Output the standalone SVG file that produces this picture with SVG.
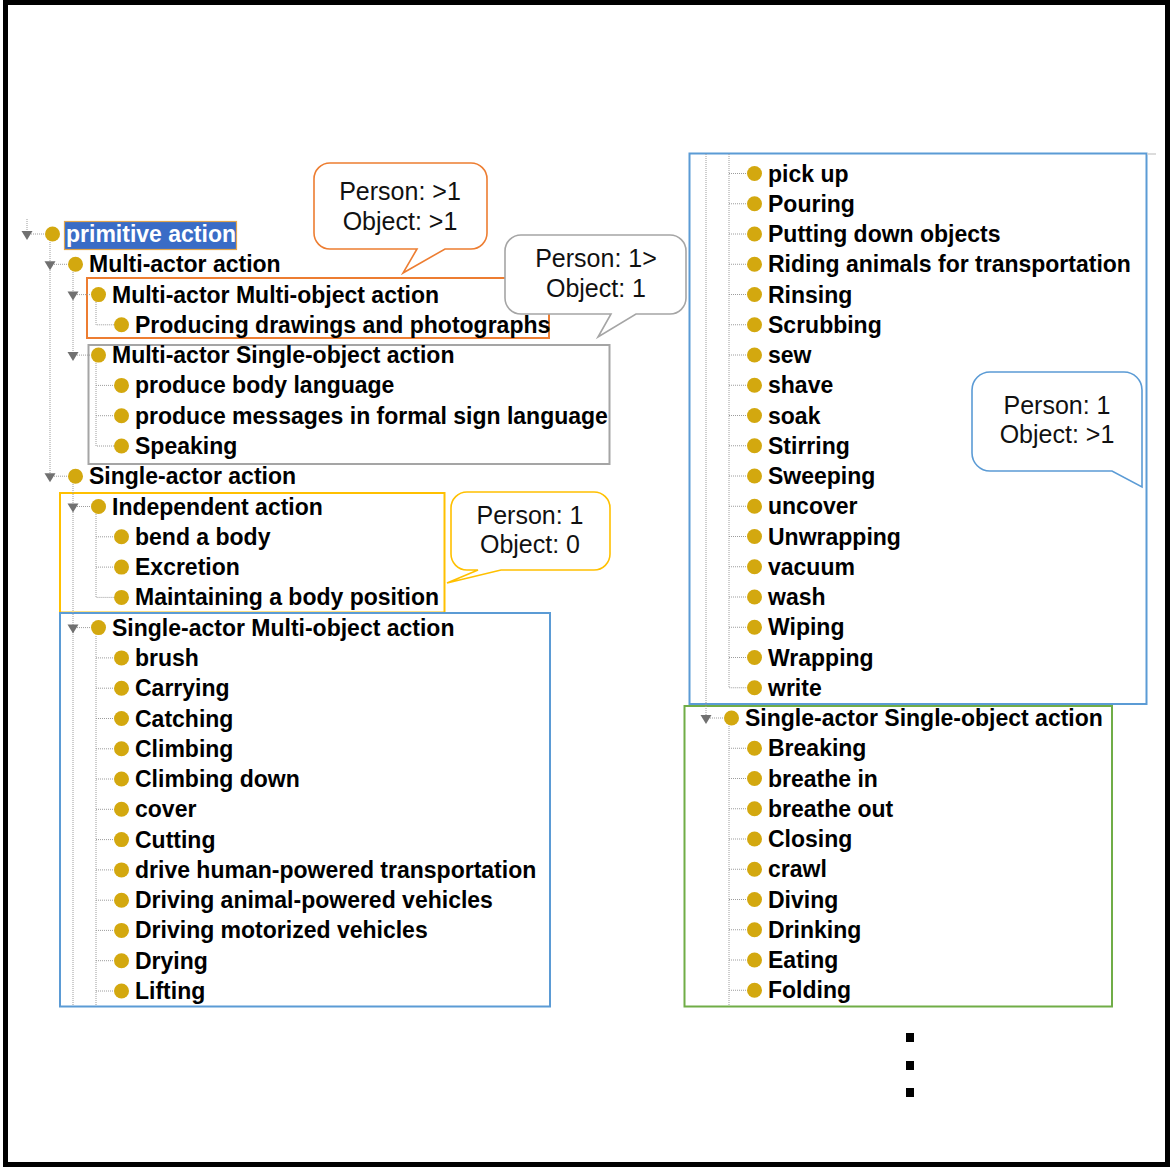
<svg xmlns="http://www.w3.org/2000/svg" xmlns:xlink="http://www.w3.org/1999/xlink" width="1173" height="1168" viewBox="0 0 1173 1168">
<style>
.t{font-family:"Liberation Sans",Arial,sans-serif;font-weight:bold;font-size:23px;fill:#000}
.w{fill:#fff}
.b{fill:#D3A80F}
.d{stroke:#9c9c9c;stroke-width:1;stroke-dasharray:1 1;fill:none}
.box{fill:none;stroke-width:2}
.call{fill:#fff;stroke-width:1.6}
.n{font-family:"Liberation Sans",Arial,sans-serif;font-size:25px;fill:#111;text-anchor:middle}
</style>
<defs>
<path id="tri" d="M-5.5,-3 H5.5 L0,6 Z" fill="#707070"/>
</defs>
<rect x="0" y="0" width="1173" height="1168" fill="#fff"/>
<rect x="5.5" y="2.5" width="1162" height="1162" fill="none" stroke="#000" stroke-width="5"/>

<g id="groups">
<rect id="box-mamo" class="box" x="87" y="278" width="462" height="60" stroke="#ED7D31"/>
<rect id="box-maso" class="box" x="88.5" y="345" width="521" height="119" stroke="#A5A5A5"/>
<rect id="box-indep" class="box" x="60" y="493" width="384.5" height="119.5" stroke="#FFC000"/>
<rect id="box-samo-left" class="box" x="60" y="613" width="490" height="393.5" stroke="#5B9BD5"/>
<rect id="box-samo-right" class="box" x="689.5" y="153.5" width="457" height="550.5" stroke="#5B9BD5"/>
<line x1="1147" y1="154" x2="1156" y2="154" stroke="#d0d0d0" stroke-width="1.5"/>
<rect id="box-saso" class="box" x="684.5" y="706" width="427.5" height="300.5" stroke="#70AD47"/>
</g>

<g id="connectors" class="d">
<path d="M27,219 V231 M27,234 H45"/>
<path d="M50,242 V476.2"/>
<path d="M50,264.3 H68"/>
<path d="M73,272 V355.1"/>
<path d="M73,294.6 H91"/>
<path d="M96,302 V324.8 H114"/>
<path d="M73,355.1 H91"/>
<path d="M96,363 V446 H114 M96,385.4 H114 M96,415.7 H114"/>
<path d="M50,476.2 H68"/>
<path d="M73,484 V1006"/>
<path d="M73,506.5 H91"/>
<path d="M96,514 V597.4 H114 M96,536.8 H114 M96,567.1 H114"/>
<path d="M73,627.6 H91"/>
<path d="M96,636 V1006"/>
<path d="M96,657.9 H114 M96,688.2 H114 M96,718.5 H114 M96,748.8 H114 M96,779 H114 M96,809.3 H114 M96,839.6 H114 M96,869.9 H114 M96,900.2 H114 M96,930.4 H114 M96,960.7 H114 M96,991 H114"/>
<path d="M706,154 V718 H724"/>
<path d="M729,154 V687.75 H747"/>
<path d="M729,173.5 H747 M729,203.75 H747 M729,234 H747 M729,264.25 H747 M729,294.5 H747 M729,324.75 H747 M729,355 H747 M729,385.25 H747 M729,415.5 H747 M729,445.75 H747 M729,476 H747 M729,506.25 H747 M729,536.5 H747 M729,566.75 H747 M729,597 H747 M729,627.25 H747 M729,657.5 H747"/>
<path d="M729,726 V1006"/>
<path d="M729,748.25 H747 M729,778.5 H747 M729,808.75 H747 M729,839 H747 M729,869.25 H747 M729,899.5 H747 M729,929.75 H747 M729,960 H747 M729,990.25 H747"/>
</g>

<g id="n-primitive-action"><use xlink:href="#tri" x="27" y="234"/><circle class="b" cx="52.5" cy="234" r="7.5"/><rect x="64.5" y="221.5" width="172" height="28" fill="#3A6CC6" stroke="#E2A54C" stroke-width="1.2"/><text class="t w" x="66" y="242">primitive action</text></g>
<g id="n-multi-actor-action"><use xlink:href="#tri" x="50" y="264.3"/><circle class="b" cx="75.5" cy="264.3" r="7.5"/><text class="t" x="89" y="272.3">Multi-actor action</text></g>
<g id="n-mamo"><use xlink:href="#tri" x="73" y="294.6"/><circle class="b" cx="98.5" cy="294.6" r="7.5"/><text class="t" x="112" y="302.6">Multi-actor Multi-object action</text></g>
<g id="n-producing"><circle class="b" cx="121.5" cy="324.8" r="7.5"/><text class="t" x="135" y="332.8">Producing drawings and photographs</text></g>
<g id="n-maso"><use xlink:href="#tri" x="73" y="355.1"/><circle class="b" cx="98.5" cy="355.1" r="7.5"/><text class="t" x="112" y="363.1">Multi-actor Single-object action</text></g>
<g id="n-body-language"><circle class="b" cx="121.5" cy="385.4" r="7.5"/><text class="t" x="135" y="393.4">produce body language</text></g>
<g id="n-sign-language"><circle class="b" cx="121.5" cy="415.7" r="7.5"/><text class="t" x="135" y="423.7">produce messages in formal sign language</text></g>
<g id="n-speaking"><circle class="b" cx="121.5" cy="446" r="7.5"/><text class="t" x="135" y="454">Speaking</text></g>
<g id="n-single-actor-action"><use xlink:href="#tri" x="50" y="476.2"/><circle class="b" cx="75.5" cy="476.2" r="7.5"/><text class="t" x="89" y="484.2">Single-actor action</text></g>
<g id="n-independent"><use xlink:href="#tri" x="73" y="506.5"/><circle class="b" cx="98.5" cy="506.5" r="7.5"/><text class="t" x="112" y="514.5">Independent action</text></g>
<g id="n-bend"><circle class="b" cx="121.5" cy="536.8" r="7.5"/><text class="t" x="135" y="544.8">bend a body</text></g>
<g id="n-excretion"><circle class="b" cx="121.5" cy="567.1" r="7.5"/><text class="t" x="135" y="575.1">Excretion</text></g>
<g id="n-maintaining"><circle class="b" cx="121.5" cy="597.4" r="7.5"/><text class="t" x="135" y="605.4">Maintaining a body position</text></g>
<g id="n-samo"><use xlink:href="#tri" x="73" y="627.6"/><circle class="b" cx="98.5" cy="627.6" r="7.5"/><text class="t" x="112" y="635.6">Single-actor Multi-object action</text></g>
<g id="n-brush"><circle class="b" cx="121.5" cy="657.9" r="7.5"/><text class="t" x="135" y="665.9">brush</text></g>
<g id="n-carrying"><circle class="b" cx="121.5" cy="688.2" r="7.5"/><text class="t" x="135" y="696.2">Carrying</text></g>
<g id="n-catching"><circle class="b" cx="121.5" cy="718.5" r="7.5"/><text class="t" x="135" y="726.5">Catching</text></g>
<g id="n-climbing"><circle class="b" cx="121.5" cy="748.8" r="7.5"/><text class="t" x="135" y="756.8">Climbing</text></g>
<g id="n-climbing-down"><circle class="b" cx="121.5" cy="779" r="7.5"/><text class="t" x="135" y="787">Climbing down</text></g>
<g id="n-cover"><circle class="b" cx="121.5" cy="809.3" r="7.5"/><text class="t" x="135" y="817.3">cover</text></g>
<g id="n-cutting"><circle class="b" cx="121.5" cy="839.6" r="7.5"/><text class="t" x="135" y="847.6">Cutting</text></g>
<g id="n-drive-human"><circle class="b" cx="121.5" cy="869.9" r="7.5"/><text class="t" x="135" y="877.9">drive human-powered transportation</text></g>
<g id="n-driving-animal"><circle class="b" cx="121.5" cy="900.2" r="7.5"/><text class="t" x="135" y="908.2">Driving animal-powered vehicles</text></g>
<g id="n-driving-motor"><circle class="b" cx="121.5" cy="930.4" r="7.5"/><text class="t" x="135" y="938.4">Driving motorized vehicles</text></g>
<g id="n-drying"><circle class="b" cx="121.5" cy="960.7" r="7.5"/><text class="t" x="135" y="968.7">Drying</text></g>
<g id="n-lifting"><circle class="b" cx="121.5" cy="991" r="7.5"/><text class="t" x="135" y="999">Lifting</text></g>

<g id="n-pick-up"><circle class="b" cx="754.5" cy="173.5" r="7.5"/><text class="t" x="768" y="181.5">pick up</text></g>
<g id="n-pouring"><circle class="b" cx="754.5" cy="203.75" r="7.5"/><text class="t" x="768" y="211.75">Pouring</text></g>
<g id="n-putting-down"><circle class="b" cx="754.5" cy="234" r="7.5"/><text class="t" x="768" y="242">Putting down objects</text></g>
<g id="n-riding"><circle class="b" cx="754.5" cy="264.25" r="7.5"/><text class="t" x="768" y="272.25">Riding animals for transportation</text></g>
<g id="n-rinsing"><circle class="b" cx="754.5" cy="294.5" r="7.5"/><text class="t" x="768" y="302.5">Rinsing</text></g>
<g id="n-scrubbing"><circle class="b" cx="754.5" cy="324.75" r="7.5"/><text class="t" x="768" y="332.75">Scrubbing</text></g>
<g id="n-sew"><circle class="b" cx="754.5" cy="355" r="7.5"/><text class="t" x="768" y="363">sew</text></g>
<g id="n-shave"><circle class="b" cx="754.5" cy="385.25" r="7.5"/><text class="t" x="768" y="393.25">shave</text></g>
<g id="n-soak"><circle class="b" cx="754.5" cy="415.5" r="7.5"/><text class="t" x="768" y="423.5">soak</text></g>
<g id="n-stirring"><circle class="b" cx="754.5" cy="445.75" r="7.5"/><text class="t" x="768" y="453.75">Stirring</text></g>
<g id="n-sweeping"><circle class="b" cx="754.5" cy="476" r="7.5"/><text class="t" x="768" y="484">Sweeping</text></g>
<g id="n-uncover"><circle class="b" cx="754.5" cy="506.25" r="7.5"/><text class="t" x="768" y="514.25">uncover</text></g>
<g id="n-unwrapping"><circle class="b" cx="754.5" cy="536.5" r="7.5"/><text class="t" x="768" y="544.5">Unwrapping</text></g>
<g id="n-vacuum"><circle class="b" cx="754.5" cy="566.75" r="7.5"/><text class="t" x="768" y="574.75">vacuum</text></g>
<g id="n-wash"><circle class="b" cx="754.5" cy="597" r="7.5"/><text class="t" x="768" y="605">wash</text></g>
<g id="n-wiping"><circle class="b" cx="754.5" cy="627.25" r="7.5"/><text class="t" x="768" y="635.25">Wiping</text></g>
<g id="n-wrapping"><circle class="b" cx="754.5" cy="657.5" r="7.5"/><text class="t" x="768" y="665.5">Wrapping</text></g>
<g id="n-write"><circle class="b" cx="754.5" cy="687.75" r="7.5"/><text class="t" x="768" y="695.75">write</text></g>
<g id="n-saso"><use xlink:href="#tri" x="706" y="718"/><circle class="b" cx="731.5" cy="718" r="7.5"/><text class="t" x="745" y="726">Single-actor Single-object action</text></g>
<g id="n-breaking"><circle class="b" cx="754.5" cy="748.25" r="7.5"/><text class="t" x="768" y="756.25">Breaking</text></g>
<g id="n-breathe-in"><circle class="b" cx="754.5" cy="778.5" r="7.5"/><text class="t" x="768" y="786.5">breathe in</text></g>
<g id="n-breathe-out"><circle class="b" cx="754.5" cy="808.75" r="7.5"/><text class="t" x="768" y="816.75">breathe out</text></g>
<g id="n-closing"><circle class="b" cx="754.5" cy="839" r="7.5"/><text class="t" x="768" y="847">Closing</text></g>
<g id="n-crawl"><circle class="b" cx="754.5" cy="869.25" r="7.5"/><text class="t" x="768" y="877.25">crawl</text></g>
<g id="n-diving"><circle class="b" cx="754.5" cy="899.5" r="7.5"/><text class="t" x="768" y="907.5">Diving</text></g>
<g id="n-drinking"><circle class="b" cx="754.5" cy="929.75" r="7.5"/><text class="t" x="768" y="937.75">Drinking</text></g>
<g id="n-eating"><circle class="b" cx="754.5" cy="960" r="7.5"/><text class="t" x="768" y="968">Eating</text></g>
<g id="n-folding"><circle class="b" cx="754.5" cy="990.25" r="7.5"/><text class="t" x="768" y="998.25">Folding</text></g>

<g id="callout-mamo">
<path class="call" stroke="#ED7D31" d="M330,163 H471 A16,16 0 0 1 487,179 V233 A16,16 0 0 1 471,249 H445 L403,273 L417,249 H330 A16,16 0 0 1 314,233 V179 A16,16 0 0 1 330,163 Z"/>
<text class="n" x="400" y="200">Person: &gt;1</text>
<text class="n" x="400" y="229.5">Object: &gt;1</text>
</g>
<g id="callout-maso">
<path class="call" stroke="#A5A5A5" d="M521,235 H670 A16,16 0 0 1 686,251 V298 A16,16 0 0 1 670,314 H636 L598,337 L611,314 H521 A16,16 0 0 1 505,298 V251 A16,16 0 0 1 521,235 Z"/>
<text class="n" x="596" y="267">Person: 1&gt;</text>
<text class="n" x="596" y="297">Object: 1</text>
</g>
<g id="callout-indep">
<path class="call" stroke="#FFC000" d="M467,492 H594 A16,16 0 0 1 610,508 V554 A16,16 0 0 1 594,570 H501 L447,583 L478,570 H467 A16,16 0 0 1 451,554 V508 A16,16 0 0 1 467,492 Z"/>
<text class="n" x="530" y="524">Person: 1</text>
<text class="n" x="530" y="553">Object: 0</text>
</g>
<g id="callout-samo">
<path class="call" stroke="#5B9BD5" d="M990,372 H1124 A18,18 0 0 1 1142,390 V487 L1112,471 H990 A18,18 0 0 1 972,453 V390 A18,18 0 0 1 990,372 Z"/>
<text class="n" x="1057" y="414">Person: 1</text>
<text class="n" x="1057" y="443">Object: &gt;1</text>
</g>

<g id="ellipsis" fill="#000">
<rect x="906" y="1033" width="8" height="9"/>
<rect x="906" y="1061" width="8" height="9"/>
<rect x="906" y="1088" width="8" height="9"/>
</g>
</svg>
